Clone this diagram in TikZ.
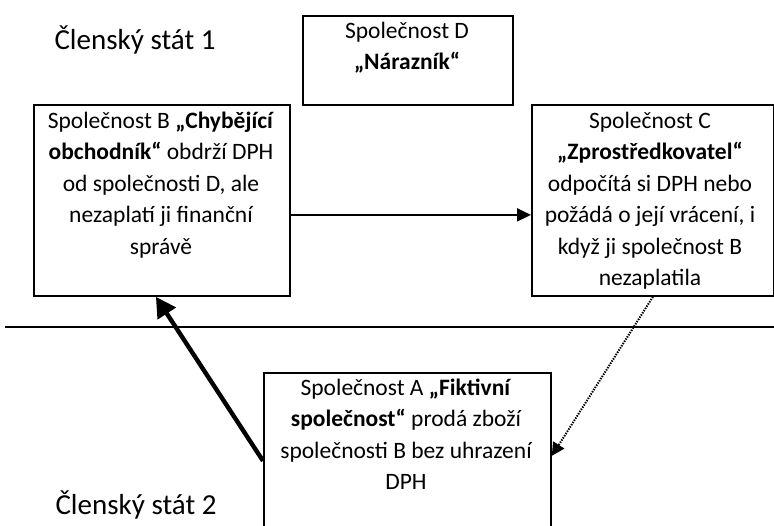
\documentclass[tikz,border=0pt]{standalone}
\usepackage{fontspec}
\setmainfont{Carlito}
\usetikzlibrary{arrows.meta,calc}
\begin{document}
\begin{tikzpicture}[x=1pt,y=-1pt,
  box/.style={draw=black,line width=1.8pt,inner sep=0pt,anchor=north west},
  boxtext/.style={anchor=north,inner sep=0pt,align=center,font=\fontsize{23.5}{31.5}\selectfont},
  title/.style={inner sep=0pt,font=\fontsize{29}{34}\selectfont},
  flow/.style={line width=2pt,-{Triangle[length=14pt,width=13pt]}},
  thick flow/.style={line width=4.4pt,-{Triangle[length=20pt,width=21pt]}},
  dot flow/.style={line width=2pt,dash pattern=on 1.4pt off 1.2pt,-{Triangle[length=13pt,width=13pt]}}]
\useasboundingbox (0,0) rectangle (774,525);
\clip (0,0) rectangle (774,525);

\node[title] (t1) at (135,40) {Členský stát 1};
\node[title] (t2) at (136,505) {Členský stát 2};

\node[box,minimum width=210pt,minimum height=89pt] (D) at (302,15) {};
\node[boxtext] (Dt) at (407,16) {\strut Společnost D\\\textbf{„Nárazník“}};

\node[box,minimum width=256pt,minimum height=191pt] (B) at (33,104) {};
\node[boxtext] (Bt) at (161,106) {\strut Společnost B \textbf{„Chybějící}\\\textbf{obchodník“} obdrží DPH\\od společnosti D, ale\\nezaplatí ji finanční\\správě};

\node[box,minimum width=242pt,minimum height=191pt] (C) at (531,104) {};
\node[boxtext] (Ct) at (650,106) {\strut Společnost C\\\textbf{„Zprostředkovatel“}\\odpočítá si DPH nebo\\požádá o její vrácení, i\\když ji společnost B\\nezaplatila};

\node[box,minimum width=287pt,minimum height=168pt] (A) at (263,372) {};
\node[boxtext] (At) at (406,373) {\strut Společnost A \textbf{„Fiktivní}\\\textbf{společnost“} prodá zboží\\společnosti B bez uhrazení\\DPH};

\coordinate (sepL) at (5,327);
\coordinate (sepR) at (774,327);
\draw[line width=1.8pt] (sepL) -- (sepR);

\draw[flow] ([yshift=-14.5pt]B.east) -- ([yshift=-14.5pt]B.east -| C.west);
\draw[thick flow] ([yshift=-4pt]A.west) -- ([xshift=-6pt]B.south);
\draw[dot flow] (C.south) -- ([yshift=1pt]A.east);
\end{tikzpicture}
\end{document}
